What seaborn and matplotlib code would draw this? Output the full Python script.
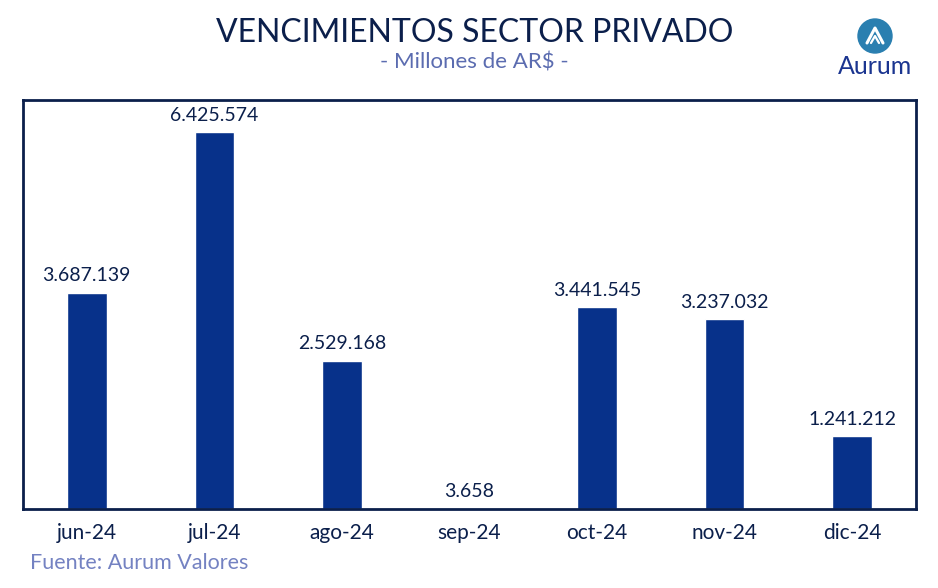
import matplotlib
matplotlib.use("Agg")
import matplotlib.pyplot as plt
import numpy as np
import pandas as pd
import seaborn as sns
from matplotlib.patches import Circle

months = ["jun-24", "jul-24", "ago-24", "sep-24", "oct-24", "nov-24", "dic-24"]
vencimientos = [3687139, 6425574, 2529168, 3658, 3441545, 3237032, 1241212]

NAVY = "#0b1f4b"
BAR = "#07318a"
SUB = "#5b6cb0"
FOOT = "#7482c2"

sns.set_style("white")
plt.rcParams["font.family"] = ["Lato", "DejaVu Sans"]

df = pd.DataFrame({"mes": months, "valor": vencimientos})

fig = plt.figure(figsize=(9.38, 5.88), dpi=100)
ax = fig.add_axes([23 / 938, 1 - 509 / 588, (916 - 23) / 938, (509 - 100) / 588])
sns.barplot(data=df, x="mes", y="valor", order=months, color=BAR, width=0.31,
            saturation=1, ax=ax)

ax.set_xlim(-0.5, len(months) - 0.5)
ax.set_ylim(0, 6.97e6)
ax.set_yticks([])
ax.set_xlabel("")
ax.set_ylabel("")
ax.tick_params(axis="x", length=0, pad=10, labelsize=15, labelcolor=NAVY)
for sp in ax.spines.values():
    sp.set_visible(True)
    sp.set_color(NAVY)
    sp.set_linewidth(2)

labels = [f"{v:,}".replace(",", ".") for v in vencimientos]
ax.bar_label(ax.containers[0], labels=labels, padding=6, fontsize=14, color=NAVY)

fig.text(0.506, 0.944, "VENCIMIENTOS SECTOR PRIVADO", ha="center", va="center",
         fontsize=23, color=NAVY)
fig.text(0.506, 0.894, "- Millones de AR$ -", ha="center", va="center",
         fontsize=16, color=SUB)
fig.text(30 / 938, 1 - 563 / 588, "Fuente: Aurum Valores", ha="left", va="center",
         fontsize=15.5, color=FOOT)

# logo
lax = fig.add_axes([820 / 938, 1 - 85 / 588, 110 / 938, 75 / 588])
lax.set_xlim(0, 110)
lax.set_ylim(75, 0)
lax.set_aspect("equal")
lax.axis("off")
lax.add_patch(Circle((55, 26), 17, color="#2a7fb0"))
lax.plot([47, 55, 63], [33, 18, 33], color="white", linewidth=2.2, solid_capstyle="round")
lax.plot([51, 55, 59], [33, 26, 33], color="white", linewidth=1.6, solid_capstyle="round")
lax.text(55, 57, "Aurum", ha="center", va="center", fontsize=18, color="#1b3590")

fig.savefig("out.png", dpi=100)
